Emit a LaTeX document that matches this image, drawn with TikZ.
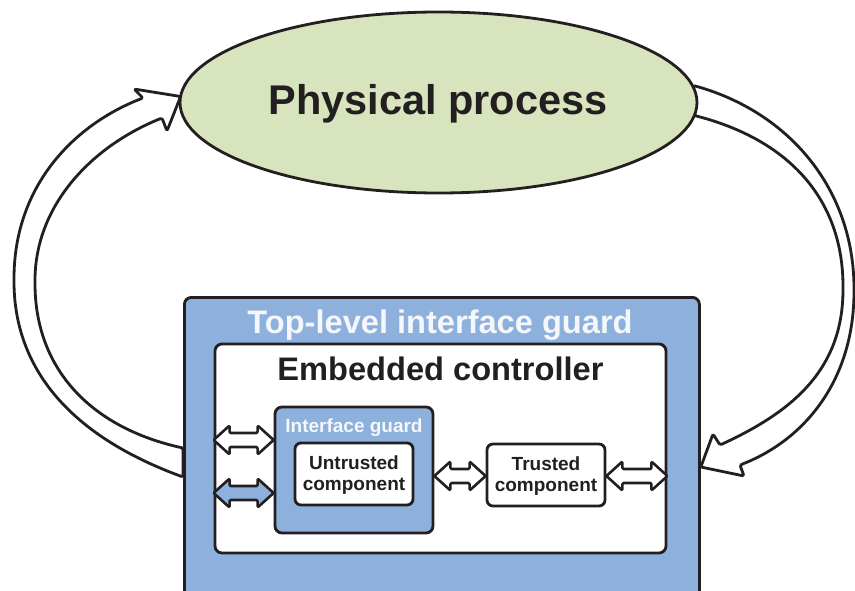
\documentclass[tikz,border=0pt]{standalone}
\usepackage{fontspec}
\setmainfont{Liberation Sans}
\usetikzlibrary{shapes.geometric,calc}
\definecolor{ink}{HTML}{231F20}
\definecolor{gblue}{HTML}{8DB0DC}
\definecolor{pgreen}{HTML}{D7E4BD}
\definecolor{wtext}{HTML}{F4F7FC}
\pgfdeclarelayer{bg}
\pgfsetlayers{bg,main}
\tikzset{
  boxstyle/.style={draw=ink, line width=2.8pt, rounded corners=7pt, inner sep=0pt},
  bigarrow/.style={draw=ink, fill=white, line width=2.8pt, line join=round, rounded corners=1.5pt},
  dblstyle/.style={draw=ink, line width=2.6pt, line join=round, rounded corners=1.2pt},
  bigtitle/.style={font=\bfseries\fontsize{32.6}{38}\selectfont, anchor=base, inner sep=0pt},
  smalltext/.style={font=\bfseries\fontsize{19}{21.7}\selectfont, text=ink, align=center, inner sep=0pt}
}
\newcommand\dblarr[3]{%
  \draw[dblstyle, fill=#1] let \p1=#2, \p2=#3 in
  (\x1,\y1) -- (\x1+16pt,\y1+14.5pt) -- (\x1+16pt,\y1+7pt) -- (\x2-16pt,\y1+7pt)
  -- (\x2-16pt,\y1+14.5pt) -- (\x2,\y1) -- (\x2-16pt,\y1-14.5pt) -- (\x2-16pt,\y1-7pt)
  -- (\x1+16pt,\y1-7pt) -- (\x1+16pt,\y1-14.5pt) -- cycle;}
\begin{document}
\begin{tikzpicture}[x=1pt,y=-1pt]
\useasboundingbox (0,0) rectangle (855,591);
% physical process
\node[ellipse, draw=ink, fill=pgreen, line width=2.8pt, minimum width=517pt, minimum height=181pt, inner sep=0pt] (pp) at (438.5,102.5) {};
\node[font=\bfseries\fontsize{41.5}{48}\selectfont, text=ink, anchor=base, inner sep=0pt] (ppt) at (438,115) {Physical process};
% top-level guard
\node[boxstyle, fill=gblue, minimum width=515pt, minimum height=330pt, anchor=north west] (tlg) at (183,296) {};
\node[bigtitle, text=wtext] (tlgt) at (440,333) {Top-level interface guard};
% embedded controller
\node[boxstyle, fill=white, minimum width=451pt, minimum height=209pt] (ec) at (440.5,448.5) {};
\node[bigtitle, text=ink] (ect) at (440.5,380) {Embedded controller};
% interface guard
\node[boxstyle, fill=gblue, minimum width=158pt, minimum height=126pt] (ig) at (354,470) {};
\node[font=\bfseries\fontsize{19}{22}\selectfont, text=wtext, anchor=base, inner sep=0pt] (igt) at (354,432) {Interface guard};
% components
\node[boxstyle, rounded corners=6pt, fill=white, minimum width=118pt, minimum height=62pt] (ut) at (354,474) {};
\node[smalltext] (utt) at (354,475) {Untrusted\\component};
\node[boxstyle, rounded corners=6pt, fill=white, minimum width=118pt, minimum height=62pt] (tr) at (546,475) {};
\node[smalltext] (trt) at (546,476) {Trusted\\component};
% double arrows
\dblarr{white}{(ec.west |- 0,440)}{(ig.west |- 0,440)}
\dblarr{gblue}{(ec.west |- 0,493)}{(ig.west |- 0,493)}
\dblarr{white}{(ig.east |- 0,476)}{(tr.west |- 0,476)}
\dblarr{white}{(tr.east |- 0,476)}{(ec.east |- 0,476)}
% big loop arrows
\begin{pgfonlayer}{bg}
\draw[bigarrow] (tlg.north west |- 0,477) .. controls (60,432) and (14,360) .. (14,280)
  .. controls (14,185) and (75,124) .. (143,98) -- (134,89) -- ($(pp.west)+(2,-6)$)
  -- (167,131) -- (162,118) .. controls (92,146) and (35,205) .. (35,282)
  .. controls (35,370) and (92,428) .. (tlg.north west |- 0,448) -- cycle;
\draw[bigarrow] ($(pp.east)+(-5,-17)$) .. controls (790,112) and (854,190) .. (854,290)
  .. controls (854,380) and (805,440) .. (740,465) -- (744,476) -- (tlg.north east |- 0,467)
  -- (713,434) -- (720,445) .. controls (792,412) and (843,370) .. (843,288)
  .. controls (843,200) and (790,140) .. ($(pp.east)+(-4,13)$) -- cycle;
\end{pgfonlayer}
\end{tikzpicture}
\end{document}
